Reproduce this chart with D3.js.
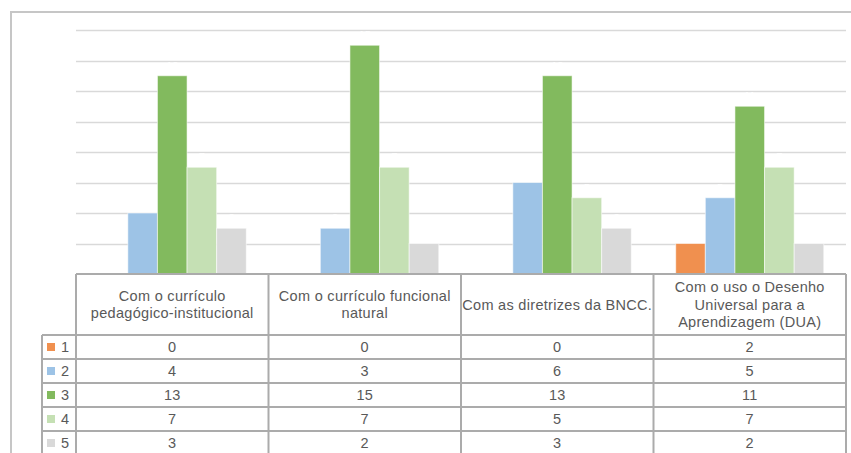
<!DOCTYPE html>
<html>
<head>
<meta charset="utf-8">
<script src="https://cdn.jsdelivr.net/npm/d3@7"></script>
<style>
  html, body { margin: 0; padding: 0; background: #fff; }
  svg { display: block; }
  text { font-family: "Liberation Sans", Arial, sans-serif; }
</style>
</head>
<body>
<svg id="chart" width="851" height="453"></svg>
<script>
// Categories (header row of the data table), line breaks as drawn
const categories = [
  "Com o currículo\npedagógico-institucional",
  "Com o currículo funcional\nnatural",
  "Com as diretrizes da BNCC.",
  "Com o uso o Desenho\nUniversal para a\nAprendizagem (DUA)"
];
// Series (rating 1–5) and their counts per category
const seriesNames = ["1", "2", "3", "4", "5"];
const values1 = [0, 0, 0, 2];
const values2 = [4, 3, 6, 5];
const values3 = [13, 15, 13, 11];
const values4 = [7, 7, 5, 7];
const values5 = [3, 2, 3, 2];
const seriesValues = [values1, values2, values3, values4, values5];
const seriesColors = ["#F0904F", "#9DC3E6", "#82BA5E", "#C5E0B4", "#D9D9D9"];
const yTicks = [0, 2, 4, 6, 8, 10, 12, 14, 16];

const svg = d3.select("#chart");

// Plot / table geometry
const plotLeft = 76, plotRight = 846;
const plotTop = 30, plotBottom = 274;
const legendLeft = 42;
const headerBottom = 335;
const rowH = 24;
const fontSize = 14.5, letterSp = 0.3, textColor = "#595959";

const x = d3.scaleBand().domain(categories).range([plotLeft, plotRight])
  .paddingInner(0).paddingOuter(0);
// 150% gap width: 5 bars + 1.5 bar widths of gap per category
const barW = x.bandwidth() / (seriesNames.length + 1.5);
const xs = d3.scaleBand().domain(seriesNames)
  .range([barW * 0.75, x.bandwidth() - barW * 0.75]).padding(0);
const y = d3.scaleLinear().domain([0, 16]).range([plotBottom, plotTop]);

// Outer chart frame (left and top edges)
svg.append("path")
  .attr("d", `M11,453 V12 H851`)
  .attr("fill", "none").attr("stroke", "#C6C6C6").attr("stroke-width", 2);

// Horizontal gridlines
svg.append("g")
  .selectAll("line")
  .data(yTicks.filter(d => d > 0))
  .join("line")
  .attr("x1", plotLeft).attr("x2", plotRight)
  .attr("y1", d => Math.round(y(d)) + 0.5).attr("y2", d => Math.round(y(d)) + 0.5)
  .attr("stroke", "#D9D9D9").attr("stroke-width", 1.5);

// Bars
const rows = seriesNames.map((s, i) => ({ name: s, color: seriesColors[i], values: seriesValues[i] }));
const barG = svg.append("g");
rows.forEach(r => {
  barG.selectAll(null)
    .data(r.values.map((v, ci) => ({ v, cat: categories[ci] })))
    .join("rect")
    .attr("x", d => x(d.cat) + xs(r.name))
    .attr("y", d => y(d.v))
    .attr("width", xs.bandwidth())
    .attr("height", d => y(0) - y(d.v))
    .attr("fill", r.color)
    .attr("stroke", d => d.v > 0 ? "rgba(255,255,255,0.55)" : "none")
    .attr("stroke-width", 1);
});

// White value labels above bars
const labelG = svg.append("g");
rows.forEach(r => {
  labelG.selectAll(null)
    .data(r.values.map((v, ci) => ({ v, cat: categories[ci] })))
    .join("text")
    .attr("x", d => x(d.cat) + xs(r.name) + xs.bandwidth() / 2)
    .attr("y", d => y(d.v) - 6)
    .attr("text-anchor", "middle")
    .attr("font-size", 11)
    .attr("fill", "#FFFFFF")
    .text(d => d.v);
});

// Data table
const tableStroke = "#ABABAB";
const tG = svg.append("g");

// Header box top line
tG.append("line").attr("x1", plotLeft).attr("x2", plotRight)
  .attr("y1", plotBottom).attr("y2", plotBottom)
  .attr("stroke", tableStroke).attr("stroke-width", 2);
// Column dividers (including left/right edges)
const colEdges = categories.map(c => x(c)).concat([plotRight]);
tG.selectAll(".vcol").data(colEdges).join("line")
  .attr("x1", d => d).attr("x2", d => d)
  .attr("y1", plotBottom).attr("y2", 453)
  .attr("stroke", tableStroke).attr("stroke-width", 2);
// Legend column left edge
tG.append("line").attr("x1", legendLeft).attr("x2", legendLeft)
  .attr("y1", headerBottom).attr("y2", 453)
  .attr("stroke", tableStroke).attr("stroke-width", 2);
// Row lines
const rowLines = d3.range(seriesNames.length).map(i => headerBottom + i * rowH);
tG.selectAll(".hrow").data(rowLines).join("line")
  .attr("x1", legendLeft).attr("x2", plotRight)
  .attr("y1", d => d).attr("y2", d => d)
  .attr("stroke", tableStroke).attr("stroke-width", 2);

// Header labels
const lineH = 17.5;
categories.forEach(c => {
  const lines = c.split("\n");
  const cy = (plotBottom + headerBottom) / 2;
  const t = tG.append("text")
    .attr("text-anchor", "middle")
    .attr("font-size", fontSize)
    .attr("letter-spacing", letterSp)
    .attr("fill", textColor);
  lines.forEach((ln, i) => {
    t.append("tspan")
      .attr("x", x(c) + x.bandwidth() / 2)
      .attr("y", cy + (i - (lines.length - 1) / 2) * lineH + 5)
      .text(ln);
  });
});

// Legend keys and series names, then the value cells
rows.forEach((r, i) => {
  const cy = headerBottom + i * rowH + rowH / 2;
  tG.append("rect").attr("x", 47).attr("y", cy - 4).attr("width", 8).attr("height", 8)
    .attr("fill", r.color);
  tG.append("text").attr("x", 61).attr("y", cy + 5)
    .attr("font-size", fontSize).attr("fill", textColor).text(r.name);
  r.values.forEach((v, ci) => {
    tG.append("text")
      .attr("x", x(categories[ci]) + x.bandwidth() / 2)
      .attr("y", cy + 5)
      .attr("text-anchor", "middle")
      .attr("font-size", fontSize).attr("letter-spacing", letterSp)
      .attr("fill", textColor)
      .text(v);
  });
});
</script>
</body>
</html>
